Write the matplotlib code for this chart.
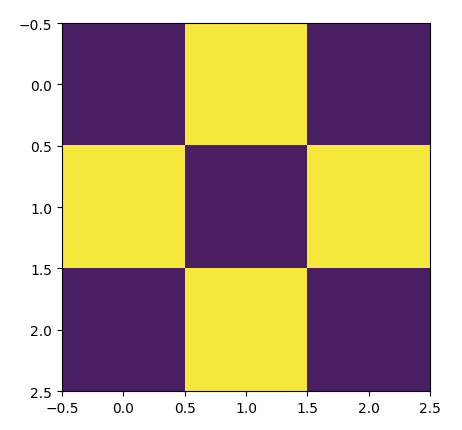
import numpy as np
import matplotlib
matplotlib.use('Agg')
import matplotlib.pyplot as plt
from matplotlib.colors import ListedColormap

# 3x3 checkerboard values
grid = np.array([[0, 1, 0],
                 [1, 0, 1],
                 [0, 1, 0]])

cmap = ListedColormap(['#4a1e63', '#f5e83a'])

fig = plt.figure(figsize=(4.62, 4.31), dpi=100)
ax = fig.add_axes([61/462, 39/431, 370/462, 368/431])
ax.imshow(grid, cmap=cmap)
ax.set_xticks([-0.5, 0.0, 0.5, 1.0, 1.5, 2.0, 2.5])
ax.set_yticks([-0.5, 0.0, 0.5, 1.0, 1.5, 2.0, 2.5])

fig.savefig('out.png', dpi=100)
